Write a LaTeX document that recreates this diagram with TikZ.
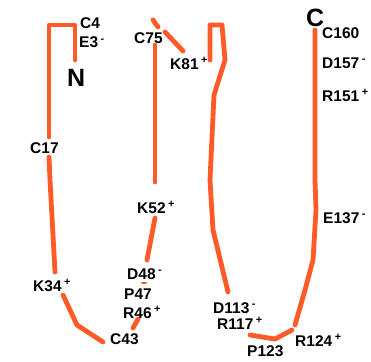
\documentclass[tikz,border=0pt]{standalone}
\usepackage{fontspec}
\setmainfont{Liberation Sans}
\usepackage{tikz}
\usetikzlibrary{positioning}
\definecolor{chain}{RGB}{255,90,40}
\newcommand{\chg}[1]{\hspace{2.5pt}\textsuperscript{#1}}

\begin{document}
\begin{tikzpicture}[
    x = 1pt, y = -1pt,
    strand/.style = {draw = chain, line width = 4.8pt,
                     line cap = round, line join = round},
    res/.style    = {anchor = base west, inner sep = 0pt,
                     font = \bfseries\fontsize{15.5}{15.5}\selectfont},
    term/.style   = {anchor = base west, inner sep = 0pt,
                     font = \bfseries\fontsize{25}{25}\selectfont},
  ]
    \useasboundingbox (0,0) rectangle (371,361);

    %% ── Backbone strands ─────────────────────────────────────────
    \draw[strand] (75,60) -- (75,25) -- (49,25) -- (49,137);
    \draw[strand] (49,157) -- (50,180) -- (55,272);
    \draw[strand] (63,295) -- (77,325) -- (103,342);
    \draw[strand] (133,328) -- (138,319);
    \draw[strand, line width = 2pt] (142,283) -- (146,283);
    \draw[strand] (147,260) -- (155,218);
    \draw[strand] (155,182) -- (155,45);
    \draw[strand] (153,20) -- (158,27);
    \draw[strand] (165,32) -- (183,51);
    \draw[strand] (210,60) -- (210,25) -- (222,25) -- (225,60)
                  -- (214,95) -- (210,180) -- (213,230) -- (228,292);
    \draw[strand] (250,335) -- (275,339) -- (292,330);
    \draw[strand] (295,325) -- (305,290) -- (313,260) -- (316,210)
                  -- (315,180) -- (315,30);

    %% ── Termini ──────────────────────────────────────────────────
    \node[term] (Nt) at (67,86) {N};
    \node[term] (Ct) at (306,27) {C};

    %% ── Residue labels ───────────────────────────────────────────
    \node[res] (C4)   at (80,29)   {C4};
    \node[res] (E3)   at (79,48)   {E3\chg{-}};
    \node[res] (C17)  at (30,153)  {C17};
    \node[res] (K34)  at (33,291)  {K34\chg{+}};
    \node[res] (C43)  at (110,344) {C43};
    \node[res] (R46)  at (123,318) {R46\chg{+}};
    \node[res] (P47)  at (124,299) {P47};
    \node[res] (D48)  at (127,279) {D48\chg{-}};
    \node[res] (K52)  at (137,213) {K52\chg{+}};
    \node[res] (C75)  at (134,43)  {C75};
    \node[res] (K81)  at (170,69)  {K81\chg{+}};
    \node[res] (D113) at (213,313) {D113\chg{-}};
    \node[res] (R117) at (217,329) {R117\chg{+}};
    \node[res] (P123) at (247,356) {P123};
    \node[res] (R124) at (295,346) {R124\chg{+}};
    \node[res] (E137) at (323,223) {E137\chg{-}};
    \node[res] (R151) at (322,101) {R151\chg{+}};
    \node[res] (D157) at (322,68)  {D157\chg{-}};
    \node[res] (C160) at (322,38)  {C160};
  \end{tikzpicture}
\end{document}
